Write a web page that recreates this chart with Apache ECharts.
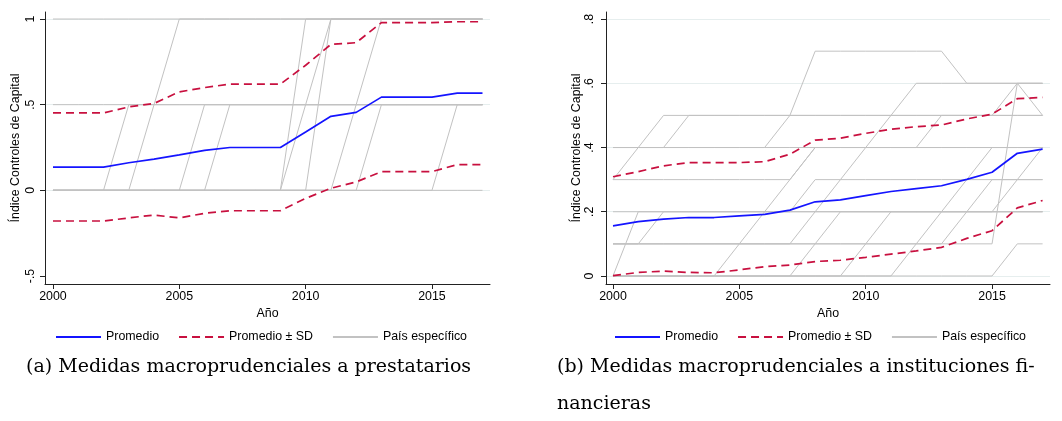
<!DOCTYPE html>
<html>
<head>
<meta charset="utf-8">
<script src="https://cdn.jsdelivr.net/npm/echarts@6/dist/echarts.min.js"></script>
<style>html,body{margin:0;padding:0;background:#fff;}#c{width:1062px;height:421px;}</style>
</head>
<body>
<div id="c"></div>
<script>
// ---------- data ----------
const years = [2000,2001,2002,2003,2004,2005,2006,2007,2008,2009,2010,2011,2012,2013,2014,2015,2016,2017];
const xTicks = [2000, 2005, 2010, 2015];
const yTicksA = [-0.5, 0, 0.5, 1];
const yTicksB = [0, 0.2, 0.4, 0.6, 0.8];
const legendNames = ['Promedio', 'Promedio ± SD', 'País específico'];
const captionA = '(a) Medidas macroprudenciales a prestatarios';
const captionB1 = '(b) Medidas macroprudenciales a instituciones fi-';
const captionB2 = 'nancieras';
const xTitle = 'Año';
const yTitle = 'Índice Controles de Capital';

// Panel (a): borrowers
const meanA  = [0.136,0.136,0.136,0.161,0.182,0.207,0.233,0.25,0.25,0.25,0.340,0.432,0.455,0.544,0.544,0.544,0.567,0.567];
const upperA = [0.452,0.452,0.452,0.487,0.507,0.575,0.600,0.62,0.62,0.62,0.730,0.852,0.862,0.979,0.979,0.979,0.984,0.984];
const lowerA = [-0.179,-0.179,-0.179,-0.161,-0.144,-0.161,-0.134,-0.119,-0.119,-0.119,-0.047,0.012,0.049,0.109,0.109,0.109,0.150,0.150];

const paisA01 = [1,1,1,1,1,1,1,1,1,1,1,1,1,1,1,1,1,1];
const paisA02 = [0.5,0.5,0.5,0.5,0.5,0.5,0.5,0.5,0.5,0.5,0.5,0.5,0.5,0.5,0.5,0.5,0.5,0.5];
const paisA03 = [0,0,0,0.5,0.5,0.5,0.5,0.5,0.5,0.5,0.5,0.5,0.5,0.5,0.5,0.5,0.5,0.5];
const paisA04 = [0,0,0,0,0.5,1,1,1,1,1,1,1,1,1,1,1,1,1];
const paisA05 = [0,0,0,0,0,0,0.5,0.5,0.5,0.5,0.5,0.5,0.5,0.5,0.5,0.5,0.5,0.5];
const paisA06 = [0,0,0,0,0,0,0,0.5,0.5,0.5,0.5,0.5,0.5,0.5,0.5,0.5,0.5,0.5];
const paisA07 = [0,0,0,0,0,0,0,0,0,0,1,1,1,1,1,1,1,1];
const paisA08 = [0,0,0,0,0,0,0,0,0,0,0.5,1,1,1,1,1,1,1];
const paisA09 = [0,0,0,0,0,0,0,0,0,0,0,1,1,1,1,1,1,1];
const paisA10 = [0,0,0,0,0,0,0,0,0,0,0,0,0.5,1,1,1,1,1];
const paisA11 = [0,0,0,0,0,0,0,0,0,0,0,0,0,0.5,0.5,0.5,0.5,0.5];
const paisA12 = [0,0,0,0,0,0,0,0,0,0,0,0,0,0,0,0,0.5,0.5];
const paisA13 = [0,0,0,0,0,0,0,0,0,0,0,0,0,0,0,0,0,0];
const countriesA = [paisA01,paisA02,paisA03,paisA04,paisA05,paisA06,paisA07,paisA08,paisA09,paisA10,paisA11,paisA12,paisA13];

// Panel (b): financial institutions
const meanB  = [0.156,0.169,0.177,0.182,0.182,0.187,0.192,0.205,0.231,0.237,0.250,0.263,0.272,0.281,0.301,0.323,0.382,0.395];
const upperB = [0.309,0.325,0.343,0.353,0.353,0.353,0.356,0.379,0.423,0.429,0.444,0.457,0.465,0.470,0.489,0.504,0.552,0.556];
const lowerB = [0.001,0.011,0.015,0.011,0.010,0.019,0.029,0.034,0.045,0.049,0.058,0.068,0.078,0.089,0.117,0.141,0.212,0.235];

const paisB01 = [0,0.2,0.2,0.2,0.2,0.2,0.2,0.2,0.3,0.3,0.3,0.3,0.3,0.3,0.3,0.3,0.3,0.3];
const paisB02 = [0.1,0.1,0.2,0.2,0.2,0.2,0.2,0.2,0.2,0.2,0.2,0.2,0.2,0.2,0.2,0.2,0.2,0.2];
const paisB03 = [0.3,0.4,0.5,0.5,0.5,0.5,0.5,0.5,0.5,0.5,0.5,0.5,0.5,0.5,0.5,0.5,0.5,0.5];
const paisB04 = [0.4,0.4,0.4,0.5,0.5,0.5,0.5,0.5,0.5,0.5,0.5,0.5,0.5,0.5,0.5,0.5,0.5,0.5];
const paisB05 = [0.4,0.4,0.4,0.4,0.4,0.4,0.4,0.5,0.7,0.7,0.7,0.7,0.7,0.7,0.6,0.6,0.6,0.6];
const paisB06 = [0.3,0.3,0.3,0.3,0.3,0.3,0.3,0.3,0.4,0.4,0.4,0.4,0.4,0.4,0.4,0.4,0.4,0.4];
const paisB07 = [0,0,0,0,0,0.1,0.2,0.3,0.4,0.4,0.4,0.4,0.4,0.4,0.4,0.4,0.4,0.4];
const paisB08 = [0.1,0.1,0.1,0.1,0.1,0.1,0.1,0.1,0.2,0.3,0.4,0.5,0.6,0.6,0.6,0.6,0.6,0.6];
const paisB09 = [0,0,0,0,0,0,0,0,0.1,0.2,0.2,0.2,0.2,0.2,0.2,0.2,0.2,0.2];
const paisB10 = [0,0,0,0,0,0,0,0,0,0,0.1,0.2,0.2,0.2,0.2,0.2,0.2,0.2];
const paisB11 = [0.1,0.1,0.1,0.1,0.1,0.1,0.1,0.1,0.1,0.1,0.1,0.1,0.1,0.1,0.1,0.1,0.6,0.5];
const paisB12 = [0,0,0,0,0,0,0,0,0,0,0,0,0,0,0,0,0.1,0.1];
const paisB13 = [0.4,0.4,0.4,0.4,0.4,0.4,0.4,0.4,0.4,0.4,0.4,0.4,0.4,0.5,0.5,0.5,0.6,0.6];
const paisB14 = [0.2,0.2,0.2,0.2,0.2,0.2,0.2,0.2,0.2,0.2,0.2,0.2,0.2,0.2,0.2,0.2,0.3,0.4];
const paisB15 = [0,0,0,0,0,0,0,0,0,0,0,0,0.1,0.2,0.3,0.4,0.4,0.4];
const paisB16 = [0.1,0.1,0.1,0.1,0.1,0.1,0.1,0.1,0.1,0.1,0.1,0.1,0.1,0.1,0.2,0.3,0.3,0.3];
const countriesB = [paisB01,paisB02,paisB03,paisB04,paisB05,paisB06,paisB07,paisB08,paisB09,paisB10,paisB11,paisB12,paisB13,paisB14,paisB15,paisB16];

// ---------- chart ----------
const FONT = 'Liberation Sans, Arial, sans-serif';
const FS = 12.4;
const GRID = '#e6eeee';
const toPts = arr => arr.map((v, i) => [years[i], v]);
const fmtY = v => {
  let s = String(Math.round(v * 100) / 100);
  return s.replace(/^0\./, '.').replace(/^-0\./, '-.');
};

function xAxisCfg(gridIndex, min, max) {
  return {
    type: 'value', gridIndex, min, max,
    name: xTitle, nameLocation: 'middle', nameGap: 20,
    nameTextStyle: { fontSize: FS, color: '#000', fontFamily: FONT },
    axisLine: { show: true, onZero: false, lineStyle: { color: '#222', width: 1 } },
    axisTick: { show: true, length: 5, lineStyle: { color: '#222' }, customValues: xTicks },
    axisLabel: { fontSize: FS, color: '#000', fontFamily: FONT, margin: 7, customValues: xTicks, formatter: v => String(v) },
    splitLine: { show: false }
  };
}
function yAxisCfg(gridIndex, min, max, ticks, margin, gridColors) {
  return {
    type: 'value', gridIndex, min, max,
    name: yTitle, nameLocation: 'middle', nameGap: 23,
    nameTextStyle: { fontSize: FS, color: '#000', fontFamily: FONT },
    axisLine: { show: true, onZero: false, lineStyle: { color: '#222', width: 1 } },
    axisTick: { show: true, length: 5, lineStyle: { color: '#222' }, customValues: ticks },
    axisLabel: { fontSize: FS, color: '#000', fontFamily: FONT, rotate: 90, margin, customValues: ticks, formatter: fmtY },
    splitLine: { show: true, lineStyle: { color: gridColors, width: 1 } }
  };
}

const series = [];
function addPanel(idx, countries, upper, lower, mean) {
  countries.forEach(c => series.push({
    type: 'line', name: legendNames[2], xAxisIndex: idx, yAxisIndex: idx,
    data: toPts(c), symbol: 'none', silent: true, z: 1,
    lineStyle: { color: '#c2c2c2', width: 1 }, itemStyle: { color: '#c2c2c2' }
  }));
  [upper, lower].forEach(s => series.push({
    type: 'line', name: legendNames[1], xAxisIndex: idx, yAxisIndex: idx,
    data: toPts(s), symbol: 'none', silent: true, z: 2,
    lineStyle: { color: '#c8103f', width: 1.7, type: [8, 5] }, itemStyle: { color: '#c8103f' }
  }));
  series.push({
    type: 'line', name: legendNames[0], xAxisIndex: idx, yAxisIndex: idx,
    data: toPts(mean), symbol: 'none', silent: true, z: 3,
    lineStyle: { color: '#1414ff', width: 1.7 }, itemStyle: { color: '#1414ff' }
  });
}
addPanel(0, countriesA, upperA, lowerA, meanA);
addPanel(1, countriesB, upperB, lowerB, meanB);

function legendCfg(left) {
  return {
    data: legendNames, left, top: 331, padding: 0, itemGap: 19, itemWidth: 45, itemHeight: 12,
    selectedMode: false, itemStyle: { opacity: 0 },
    textStyle: { fontSize: FS, color: '#000', fontFamily: FONT }
  };
}

const capStyle = { fontSize: 19, fontFamily: 'DejaVu Serif', fill: '#000', verticalAlign: 'middle' };
const chart = echarts.init(document.getElementById('c'), null, { renderer: 'canvas' });
chart.setOption({
  animation: false,
  backgroundColor: '#fff',
  grid: [
    { left: 45, top: 12, width: 445, height: 272 },
    { left: 606, top: 12, width: 444, height: 272 }
  ],
  xAxis: [xAxisCfg(0, 1999.684, 2017.297), xAxisCfg(1, 1999.723, 2017.293)],
  yAxis: [
    yAxisCfg(0, -0.5467, 1.041, yTicksA, 8, ['rgba(0,0,0,0)', GRID, GRID, GRID]),
    yAxisCfg(1, -0.025, 0.822, yTicksB, 10, [GRID])
  ],
  legend: [legendCfg(55), legendCfg(614)],
  series,
  graphic: [
    { type: 'text', x: 26, y: 367, style: Object.assign({ text: captionA }, capStyle) },
    { type: 'text', x: 557, y: 367, style: Object.assign({ text: captionB1 }, capStyle) },
    { type: 'text', x: 557, y: 404, style: Object.assign({ text: captionB2 }, capStyle) }
  ]
});
</script>
</body>
</html>
